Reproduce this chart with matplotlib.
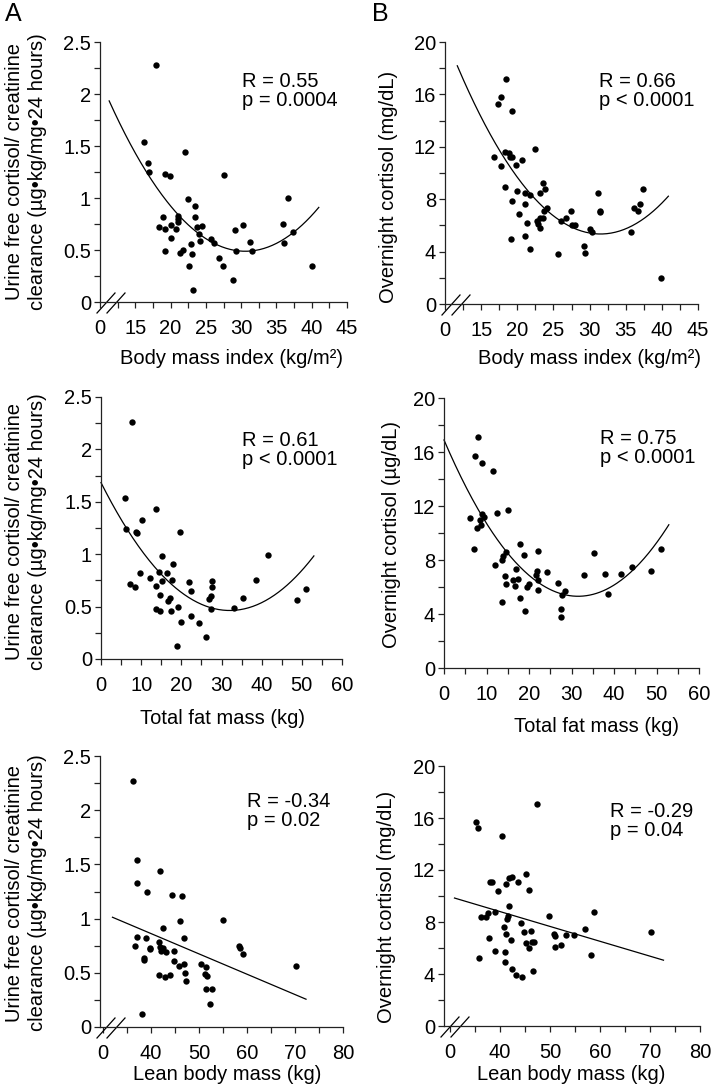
import numpy as np
import matplotlib.pyplot as plt

plt.rcParams['font.family'] = ['Liberation Sans', 'DejaVu Sans']

# ---- data ----
# BMI (kg/m2) vs urine free cortisol / creatinine clearance
bmi_ufc_x = [17.9, 16.3, 16.8, 16.9, 22.0, 19.2, 19.9, 27.5, 36.7, 22.5, 23.5, 23.5, 18.9, 21.1, 18.3,
             19.2, 20.0, 20.7, 21.1, 21.0, 23.7, 24.5, 24.0, 24.1, 20.1, 19.2, 21.4, 21.7, 22.9, 23.1,
             22.6, 23.2, 25.7, 26.1, 26.8, 27.4, 28.8, 29.2, 29.3, 30.3, 31.2, 31.5, 35.9, 36.1, 37.4, 40.0]
bmi_ufc_y = [2.28, 1.54, 1.34, 1.25, 1.44, 1.23, 1.21, 1.22, 1.00, 0.99, 0.92, 0.82, 0.82, 0.83, 0.72,
             0.70, 0.74, 0.70, 0.77, 0.80, 0.72, 0.73, 0.65, 0.59, 0.62, 0.49, 0.47, 0.50, 0.56, 0.46,
             0.35, 0.12, 0.61, 0.57, 0.42, 0.35, 0.21, 0.69, 0.49, 0.74, 0.58, 0.49, 0.75, 0.57, 0.67, 0.35]

# BMI vs overnight cortisol
bmi_cort_x = [18.5, 17.8, 17.4, 19.2, 16.8, 18.3, 18.8, 19.2, 19.0, 17.7, 19.8, 20.7, 22.4, 18.3, 19.2,
              20.0, 21.1, 21.8, 23.1, 23.5, 23.9, 21.0, 20.2, 21.4, 22.7, 22.9, 23.1, 23.5, 23.7, 24.1,
              23.2, 19.1, 21.0, 21.7, 25.7, 26.1, 26.8, 27.4, 27.5, 28.0, 29.2, 29.3, 30.0, 30.4, 31.2,
              31.5, 31.5, 35.8, 36.1, 36.7, 37.0, 37.4, 39.9]
bmi_cort_y = [17.2, 15.8, 15.3, 14.7, 11.2, 11.6, 11.5, 11.2, 11.2, 10.5, 10.6, 11.0, 11.8, 8.9, 7.9,
              8.6, 8.5, 8.3, 8.5, 9.2, 8.8, 7.6, 6.9, 6.2, 6.3, 6.1, 6.6, 6.6, 7.1, 7.3,
              5.8, 5.0, 5.2, 4.2, 3.8, 6.3, 6.6, 7.1, 6.0, 6.0, 4.4, 3.9, 5.7, 5.5, 8.5,
              7.0, 7.1, 5.5, 7.3, 7.1, 7.6, 8.8, 2.0]

# total fat mass (kg) vs UFC / creatinine clearance
fat_ufc_x = [7.8, 5.9, 6.3, 10.3, 8.8, 9.0, 13.8, 19.7, 15.3, 18.0, 41.5, 7.3, 8.4, 9.7, 12.2,
             14.4, 16.5, 13.8, 15.2, 17.8, 14.6, 16.8, 17.3, 22.0, 22.3, 13.8, 14.8, 17.5, 19.2, 20.0,
             22.3, 19.0, 24.3, 26.2, 26.9, 27.5, 27.7, 27.7, 27.5, 33.0, 35.4, 38.6, 48.8, 51.1]
fat_ufc_y = [2.26, 1.54, 1.24, 1.33, 1.21, 1.20, 1.43, 1.21, 0.98, 0.91, 0.99, 0.72, 0.69, 0.82, 0.77,
             0.83, 0.82, 0.70, 0.74, 0.75, 0.61, 0.55, 0.58, 0.73, 0.65, 0.48, 0.46, 0.46, 0.50, 0.35,
             0.41, 0.12, 0.34, 0.21, 0.57, 0.60, 0.74, 0.69, 0.48, 0.49, 0.58, 0.75, 0.56, 0.67]

# total fat mass vs overnight cortisol
fat_cort_x = [8.0, 7.4, 9.0, 11.5, 6.1, 7.7, 8.7, 8.5, 9.0, 9.4, 12.5, 15.1, 7.1, 12.1, 13.6,
              13.9, 14.5, 17.9, 18.9, 22.2, 14.4, 14.7, 16.9, 16.2, 16.6, 17.3, 19.6, 19.9, 17.8, 13.6,
              19.1, 21.8, 21.7, 22.0, 22.0, 24.2, 26.8, 27.7, 28.5, 27.6, 27.5, 32.9, 35.4, 37.8, 38.5,
              41.7, 44.2, 48.6, 51.0]
fat_cort_y = [17.1, 15.7, 15.2, 14.6, 11.1, 10.4, 10.6, 11.0, 11.4, 11.2, 11.5, 11.7, 8.8, 7.6, 8.0,
              8.3, 8.6, 9.2, 8.4, 8.7, 6.8, 6.2, 7.3, 6.5, 6.1, 6.6, 6.0, 6.2, 5.2, 4.9,
              4.2, 7.2, 6.9, 6.5, 5.8, 7.1, 6.3, 5.4, 5.7, 4.4, 3.8, 6.9, 8.5, 7.0, 5.5,
              7.0, 7.5, 7.2, 8.8]

# lean body mass (kg) vs UFC / creatinine clearance
lean_ufc_x = [36.3, 37.2, 37.2, 39.1, 41.9, 44.4, 46.5, 46.0, 55.1, 42.6, 46.9, 37.2, 39.0, 36.7, 39.8,
              39.9, 41.6, 41.9, 42.2, 42.6, 43.1, 44.9, 38.6, 38.6, 44.9, 45.8, 46.9, 41.7, 42.9, 44.0,
              47.2, 47.4, 50.4, 51.4, 51.3, 51.7, 51.5, 52.7, 52.3, 58.4, 58.5, 59.2, 70.3, 38.1]
lean_ufc_y = [2.27, 1.54, 1.33, 1.25, 1.44, 1.22, 1.21, 0.98, 0.99, 0.91, 0.82, 0.83, 0.82, 0.75, 0.73,
              0.72, 0.78, 0.74, 0.70, 0.73, 0.69, 0.70, 0.64, 0.62, 0.61, 0.56, 0.58, 0.48, 0.46, 0.48,
              0.50, 0.42, 0.58, 0.55, 0.49, 0.47, 0.35, 0.35, 0.21, 0.75, 0.73, 0.67, 0.56, 0.12]

# lean body mass vs overnight cortisol
lean_cort_x = [47.3, 35.2, 35.6, 40.3, 38.0, 38.3, 41.2, 41.7, 42.4, 43.5, 45.2, 45.7, 39.6, 41.7, 36.1,
               37.1, 37.6, 39.0, 41.3, 41.5, 44.1, 49.7, 58.7, 40.7, 41.1, 44.7, 46.2, 50.8, 50.9, 53.2,
               54.7, 56.9, 70.1, 37.7, 42.1, 45.1, 46.3, 46.7, 45.7, 50.9, 52.1, 38.9, 40.9, 58.2, 35.8,
               40.9, 42.3, 43.2, 44.3, 46.5]
lean_cort_y = [17.1, 15.7, 15.2, 14.6, 11.1, 11.1, 10.9, 11.4, 11.5, 11.1, 11.7, 10.5, 10.4, 9.2, 8.4,
               8.4, 8.7, 8.8, 8.2, 8.5, 7.9, 8.5, 8.8, 7.6, 7.1, 7.2, 7.3, 7.1, 6.9, 7.0,
               7.0, 7.5, 7.2, 6.8, 6.6, 6.4, 6.5, 6.5, 6.0, 6.1, 6.2, 5.8, 5.7, 5.5, 5.2,
               4.9, 4.4, 3.9, 3.8, 4.2]

stats = [('R = 0.55', 'p = 0.0004'), ('R = 0.66', 'p < 0.0001'),
         ('R = 0.61', 'p < 0.0001'), ('R = 0.75', 'p < 0.0001'),
         ('R = -0.34', 'p = 0.02'), ('R = -0.29', 'p = 0.04')]
fit_deg = [2, 2, 2, 2, 1, 1]
fit_range = [(11.3, 41.0), (11.7, 40.9), (0, 53.0), (0, 52.9), (32.0, 72.3), (30.9, 72.7)]

ufc_label = 'Urine free cortisol/ creatinine\nclearance (\u00b5g\u2022kg/mg\u202224 hours)'
xlabels = ['Body mass index (kg/m\u00b2)', 'Body mass index (kg/m\u00b2)',
           'Total fat mass (kg)', 'Total fat mass (kg)',
           'Lean body mass (kg)', 'Lean body mass (kg)']
ylabels = [ufc_label, 'Overnight cortisol (mg/dL)',
           ufc_label, 'Overnight cortisol (\u00b5g/dL)',
           ufc_label, 'Overnight cortisol (mg/dL)']

bmi_ticks = [10, 15, 20, 25, 30, 35, 40, 45]
bmi_ticklabels = ['0', '15', '20', '25', '30', '35', '40', '45']
fat_ticks = [0, 10, 20, 30, 40, 50, 60]
fat_ticklabels = ['0', '10', '20', '30', '40', '50', '60']
lean_ticks = [30, 40, 50, 60, 70, 80]
lean_ticklabels = ['0', '40', '50', '60', '70', '80']
ufc_ticks = [0, 0.5, 1, 1.5, 2, 2.5]
ufc_ticklabels = ['0', '0.5', '1', '1.5', '2', '2.5']
cort_ticks = [0, 4, 8, 12, 16, 20]

# ---- layout (pixels) ----
W, H = 714, 1088
FS = 14.5
fig = plt.figure(figsize=(W / 100, H / 100), dpi=100)


def add_ax(x0, y_top, x1, y_bot):
    return fig.add_axes([x0 / W, 1 - y_bot / H, (x1 - x0) / W, (y_bot - y_top) / H])


def ftext(x, y, s, **kw):
    kw.setdefault('fontsize', FS)
    fig.text(x / W, 1 - y / H, s, **kw)


panels = [
    dict(box=(100, 42, 347, 302), x=(bmi_ufc_x, bmi_ufc_y), xlim=(10, 45), xt=bmi_ticks, xtl=bmi_ticklabels,
         xminor=np.arange(12.5, 45, 2.5), ylim=(0, 2.5), yt=ufc_ticks, ytl=ufc_ticklabels, yminor=0.25, brk=True,
         txt=(242, 87), ylab=(26, 172), xlab=(232, 358)),
    dict(box=(445, 42, 698, 304), x=(bmi_cort_x, bmi_cort_y), xlim=(10, 45), xt=bmi_ticks, xtl=bmi_ticklabels,
         xminor=np.arange(12.5, 45, 2.5), ylim=(0, 20), yt=cort_ticks, ytl=None, yminor=2, brk=True,
         txt=(599, 87), ylab=(389, 187), xlab=(589, 358)),
    dict(box=(101, 397, 342, 659), x=(fat_ufc_x, fat_ufc_y), xlim=(0, 60), xt=fat_ticks, xtl=fat_ticklabels,
         xminor=np.arange(5, 60, 10), ylim=(0, 2.5), yt=ufc_ticks, ytl=ufc_ticklabels, yminor=0.25, brk=False,
         txt=(242, 446), ylab=(26, 532), xlab=(223, 718)),
    dict(box=(444, 398, 699, 668), x=(fat_cort_x, fat_cort_y), xlim=(0, 60), xt=fat_ticks, xtl=fat_ticklabels,
         xminor=np.arange(5, 60, 10), ylim=(0, 20), yt=cort_ticks, ytl=None, yminor=2, brk=False,
         txt=(600, 444), ylab=(391, 535), xlab=(596, 727)),
    dict(box=(100, 756, 343, 1027), x=(lean_ufc_x, lean_ufc_y), xlim=(29.4, 80), xt=lean_ticks, xtl=lean_ticklabels,
         xminor=np.arange(35, 80, 10), ylim=(0, 2.5), yt=ufc_ticks, ytl=ufc_ticklabels, yminor=0.25, brk=True,
         txt=(247, 807), ylab=(26, 893), xlab=(227, 1075)),
    dict(box=(444, 766, 700, 1026), x=(lean_cort_x, lean_cort_y), xlim=(28.8, 80), xt=lean_ticks, xtl=lean_ticklabels,
         xminor=np.arange(35, 80, 10), ylim=(0, 20), yt=cort_ticks, ytl=None, yminor=2, brk=True,
         txt=(610, 817), ylab=(386, 907), xlab=(571, 1075)),
]

for i, p in enumerate(panels):
    x0, yt, x1, yb = p['box']
    ax = add_ax(x0, yt, x1, yb)
    xs, ys = p['x']
    ax.scatter(xs, ys, s=21, color='black', linewidths=0, zorder=3, clip_on=False)

    # regression line / quadratic fit through the points
    coef = np.polyfit(xs, ys, fit_deg[i])
    xf = np.linspace(fit_range[i][0], fit_range[i][1], 200)
    ax.plot(xf, np.polyval(coef, xf), color='black', lw=0.9, clip_on=False)

    ax.set_xlim(*p['xlim'])
    ax.set_ylim(*p['ylim'])
    ax.set_xticks(p['xt'])
    ax.set_xticklabels(p['xtl'])
    ax.set_xticks(p['xminor'], minor=True)
    ax.set_yticks(p['yt'])
    if p['ytl'] is not None:
        ax.set_yticklabels(p['ytl'])
    ax.set_yticks(np.arange(p['ylim'][0], p['ylim'][1], p['yminor']), minor=True)

    for side in ['top', 'right']:
        ax.spines[side].set_visible(False)
    for side in ['left', 'bottom']:
        ax.spines[side].set_linewidth(0.9)
        ax.spines[side].set_color('#222222')
    ax.tick_params(which='both', direction='out', length=4, width=0.9, color='#222222',
                   labelsize=FS, pad=2.5)
    ax.tick_params(axis='x', which='both', pad=8)

    if p['brk']:
        w, h = x1 - x0, yb - yt
        for dx in (0, 10):
            ax.plot([(dx - 3) / w, (dx + 15) / w], [-11 / h, 9 / h], color='black', lw=0.9,
                    transform=ax.transAxes, clip_on=False)

    r, pv = stats[i]
    tx, ty = p['txt']
    ftext(tx, ty, r, ha='left', va='baseline')
    ftext(tx, ty + 19, pv, ha='left', va='baseline')

    lx, ly = p['ylab']
    ftext(lx, ly, ylabels[i], rotation=90, ha='center', va='center', multialignment='center',
          linespacing=1.25)
    lx, ly = p['xlab']
    ftext(lx, ly, xlabels[i], ha='center', va='center')

ftext(13, 14, 'A', ha='center', va='center', fontsize=18)
ftext(380, 14, 'B', ha='center', va='center', fontsize=18)

fig.savefig('out.png', dpi=100)
